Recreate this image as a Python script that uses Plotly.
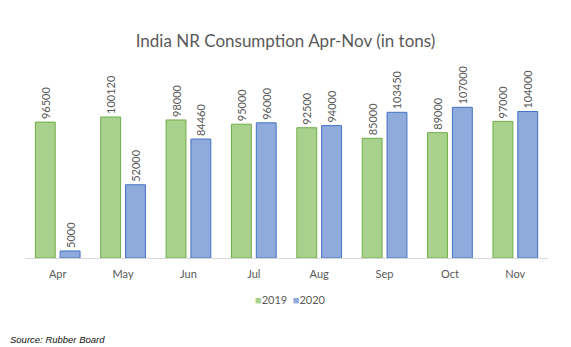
import plotly.graph_objects as go

months = ["Apr", "May", "Jun", "Jul", "Aug", "Sep", "Oct", "Nov"]
v2019 = [96500, 100120, 98000, 95000, 92500, 85000, 89000, 97000]
v2020 = [5000, 52000, 84460, 96000, 94000, 103450, 107000, 104000]
series_names = ["2019", "2020"]

font_fam = "Lato, 'Open Sans', sans-serif"
grey = "#595959"
fills = ["#A9D18E", "#8FAADC"]
edges = ["#70AD47", "#4472C4"]

fig = go.Figure()
for name, vals, fc, ec in zip(series_names, [v2019, v2020], fills, edges):
    fig.add_trace(go.Bar(
        x=months, y=vals, name=name,
        marker=dict(color=fc, line=dict(color=ec, width=1)),
        text=[str(v) for v in vals], textposition="outside", textangle=-90,
        textfont=dict(color=grey, size=11, family=font_fam), cliponaxis=False,
        showlegend=False,
    ))

fig.update_layout(
    width=571, height=347,
    margin=dict(l=25, r=23, t=89, b=89),
    paper_bgcolor="white", plot_bgcolor="white",
    barmode="group", bargap=0.24, bargroupgap=0.2,
    title=dict(text="India NR Consumption Apr-Nov (in tons)", x=0.5, xanchor="center",
               y=1 - 41/347, yanchor="middle",
               font=dict(size=17, color=grey, family=font_fam)),
    font=dict(family=font_fam, color=grey, size=11),
    xaxis=dict(showline=True, linecolor="#D9D9D9", linewidth=1, ticks="",
               ticklabelstandoff=6,
               tickfont=dict(size=11, color=grey)),
    yaxis=dict(visible=False, range=[0, 120000]),
    uniformtext=dict(mode="show", minsize=11),
)

# legend (compact, like the original)
legend_text = "  ".join(
    f"<span style='color:{fc}'>■</span>{name}" for name, fc in zip(series_names, fills)
)
fig.add_annotation(text=legend_text, xref="paper", yref="paper",
                   x=(290-25)/523, xanchor="center", y=(258-299)/169, yanchor="middle",
                   showarrow=False, font=dict(size=11, color=grey, family=font_fam))

fig.add_annotation(text="<i>Source: Rubber Board</i>", xref="paper", yref="paper",
                   x=-17/523, xanchor="left", y=(258-339)/169, yanchor="middle",
                   showarrow=False, font=dict(size=9.5, color="#111111", family="'Liberation Sans', sans-serif"))

fig.write_html("out.html")
